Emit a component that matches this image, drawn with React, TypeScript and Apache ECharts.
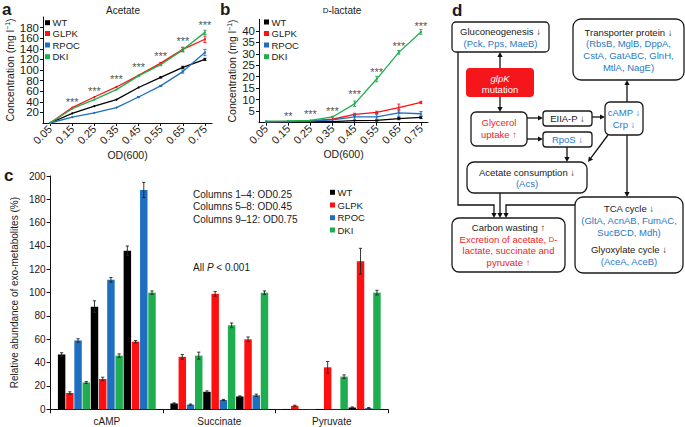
import React, { useEffect, useRef } from 'react';
import * as echarts from 'echarts';

const FONT = '"Liberation Sans", Arial, Helvetica, sans-serif';

// ---------- data ----------
const odValues = [0.05, 0.15, 0.25, 0.35, 0.45, 0.55, 0.65, 0.75];
const strainNames = ['WT', 'GLPK', 'RPOC', 'DKI'];
const strainColors = ['#000000', '#ff1010', '#1f6fc0', '#1fae4f'];

// panel a: acetate (mg/l)
const acetateWT = [0, 18, 32, 44, 67, 86, 105, 120];
const acetateGLPK = [0, 29, 49, 68, 90, 113, 139, 158];
const acetateRPOC = [0, 11, 19, 29, 49, 70, 97, 133];
const acetateDKI = [0, 27, 44, 63, 89, 110, 138, 171];
const acetateErrWT = [0, 0, 0, 0, 0, 1, 2, 2];
const acetateErrGLPK = [0, 0, 0, 0, 0, 1, 4, 6];
const acetateErrRPOC = [0, 0, 0, 0, 1, 1, 3, 6];
const acetateErrDKI = [0, 0, 0, 0, 1, 2, 4, 4];
const acetateStarY = [40, 60, 83, 105, 126, 154, 184];
const acetateStarText = ['***', '***', '***', '***', '***', '***', '***'];

// panel b: D-lactate (mg/l)
const lactateWT = [0.3, 0.4, 0.5, 0.5, 0.9, 1.0, 1.8, 2.3];
const lactateGLPK = [0.4, 0.6, 0.8, 1.5, 3.6, 4.5, 6.6, 8.8];
const lactateRPOC = [0.4, 0.5, 0.7, 1.2, 2.5, 2.5, 4.3, 3.9];
const lactateDKI = [0.7, 0.8, 1.0, 2.5, 8.2, 19, 30.6, 39.5];
const lactateErrWT = [0, 0, 0, 0, 0, 0.3, 0.5, 0.5];
const lactateErrGLPK = [0, 0, 0, 0, 0.5, 0.5, 1.5, 0.5];
const lactateErrRPOC = [0, 0, 0, 0, 1, 1, 1.5, 1];
const lactateErrDKI = [0, 0, 0, 0.3, 1.2, 1.2, 0.8, 1];
const lactateStarY = [2.8, 3.7, 5.0, 12.5, 22.2, 33.2, 41.9];
const lactateStarText = ['**', '***', '***', '***', '***', '***', '***'];

// panel c: relative abundance (%), columns 1-12 = (WT, GLPK, RPOC, DKI) x (OD0.25, OD0.45, OD0.75)
const metabolites = ['cAMP', 'Succinate', 'Pyruvate'];
const campValues = [47, 14, 59, 23, 88, 26, 111, 46, 136, 58, 188, 100];
const succinateValues = [5, 45, 4, 46, 15, 99, 8, 72, 11, 60, 12, 100];
const pyruvateValues = [0.3, 3, 0.2, 0.3, 0.3, 36, 0.3, 28, 1.5, 127, 1, 100];
const campErr = [1.5, 1, 1.5, 0.8, 5, 1.5, 2, 1.5, 4, 1, 6.5, 1.5];
const succinateErr = [0.5, 2, 0.5, 3, 0.8, 2, 0.5, 2, 0.5, 2, 1, 1.5];
const pyruvateErr = [0, 0.5, 0, 0, 0, 5, 0, 1.5, 0.5, 11, 0.5, 2];
const columnNotes = ['Columns 1–4: OD0.25', 'Columns 5–8: OD0.45', 'Columns 9–12: OD0.75'];

const BLUE_TXT = '#1f78c8';
const RED_TXT = '#ee1c25';
const DARK = '#1a1a1a';

// ---------- helpers ----------
function txt(x: number, y: number, text: string, o: any = {}) {
  const align = o.align || 'center';
  return {
    type: 'text',
    x,
    y,
    z: 10,
    style: {
      text,
      fill: o.color || DARK,
      fontSize: o.size || 9.5,
      fontFamily: FONT,
      fontWeight: o.weight || 'normal',
      fontStyle: o.style || 'normal',
      textAlign: align,
      align,
      textVerticalAlign: 'middle',
      verticalAlign: 'middle',
      rich: o.rich,
    },
  };
}

function box(x: number, y: number, w: number, h: number, r: number, fill = '#fff', stroke: any = DARK) {
  return {
    type: 'rect',
    z: 5,
    shape: { x, y, width: w, height: h, r },
    style: { fill, stroke, lineWidth: stroke ? 1.3 : 0 },
  };
}

function arrow(points: number[][], color = '#111') {
  const n = points.length;
  const [x1, y1] = points[n - 2];
  const [x2, y2] = points[n - 1];
  const ang = Math.atan2(y2 - y1, x2 - x1);
  const L = 5;
  const W = 2.6;
  const bx = x2 - L * Math.cos(ang);
  const by = y2 - L * Math.sin(ang);
  const px = -Math.sin(ang) * W;
  const py = Math.cos(ang) * W;
  const linePts = points.slice(0, n - 1).concat([[bx, by]]);
  return [
    { type: 'polyline', z: 4, shape: { points: linePts }, style: { stroke: color, lineWidth: 1.3, fill: 'none' } },
    { type: 'polygon', z: 6, shape: { points: [[x2, y2], [bx + px, by + py], [bx - px, by - py]] }, style: { fill: color } },
  ];
}

function legendItems(x: number, ys: number[]) {
  const out: any[] = [];
  strainNames.forEach((n, i) => {
    out.push({ type: 'rect', shape: { x, y: ys[i] - 2.5, width: 5, height: 5 }, style: { fill: strainColors[i] } });
    out.push(txt(x + 7.5, ys[i], n, { align: 'left', size: 9.5 }));
  });
  return out;
}

function errRenderer(color: string) {
  return (params: any, api: any) => {
    const x = api.value(0);
    const y = api.value(1);
    const e = api.value(2);
    if (!e) return null;
    const t = api.coord([x, y + e]);
    const b = api.coord([x, y - e]);
    const cap = 1.6;
    const st = { stroke: color, lineWidth: 0.9 };
    return {
      type: 'group',
      children: [
        { type: 'line', shape: { x1: t[0], y1: t[1], x2: b[0], y2: b[1] }, style: st },
        { type: 'line', shape: { x1: t[0] - cap, y1: t[1], x2: t[0] + cap, y2: t[1] }, style: st },
        { type: 'line', shape: { x1: b[0] - cap, y1: b[1], x2: b[0] + cap, y2: b[1] }, style: st },
      ],
    };
  };
}

const BAR_CAT_GAP = 0.13;
const BAR_GAP = 0.1;
const N_BARS = 12;

function barErrRender(params: any, api: any) {
  const cat = api.value(0);
  const v = api.value(1);
  const e = api.value(2);
  const bi = api.value(3);
  if (!e) return null;
  const band = api.size([1, 0])[0];
  const total = band * (1 - BAR_CAT_GAP);
  const w = total / (N_BARS + (N_BARS - 1) * BAR_GAP);
  const c = api.coord([cat, v]);
  const cx = c[0] - total / 2 + bi * w * (1 + BAR_GAP) + w / 2;
  const yt = api.coord([cat, v + e])[1];
  const yb = api.coord([cat, v - e])[1];
  const cap = 1.6;
  const st = { stroke: '#222', lineWidth: 0.9 };
  return {
    type: 'group',
    children: [
      { type: 'line', shape: { x1: cx, y1: yt, x2: cx, y2: yb }, style: st },
      { type: 'line', shape: { x1: cx - cap, y1: yt, x2: cx + cap, y2: yt }, style: st },
      { type: 'line', shape: { x1: cx - cap, y1: yb, x2: cx + cap, y2: yb }, style: st },
    ],
  };
}

function buildOption() {
  const axisLineStyle = { color: '#111', width: 1 };
  const concName = 'Concentration (mg l{sup|−1})';
  const concNameStyle = {
    fontSize: 10.5,
    fontFamily: FONT,
    color: DARK,
    rich: { sup: { fontSize: 7, fontFamily: FONT, color: DARK, verticalAlign: 'top', padding: [0, 0, 5, 0] } },
  };

  const odAxis = (gridIndex: number) => ({
    type: 'value',
    gridIndex,
    min: 0.018,
    max: 0.782,
    splitLine: { show: false },
    axisLine: { show: true, onZero: false, lineStyle: axisLineStyle },
    axisTick: { show: true, customValues: odValues, length: 3, lineStyle: axisLineStyle },
    axisLabel: {
      customValues: odValues,
      formatter: (v: number) => v.toFixed(2),
      rotate: 45,
      fontSize: 11,
      fontFamily: FONT,
      color: DARK,
      margin: 4,
    },
    name: 'OD(600)',
    nameLocation: 'middle',
    nameGap: 24,
    nameTextStyle: { fontSize: 10.5, fontFamily: FONT, color: DARK },
  });

  const xAxis: any[] = [
    odAxis(0),
    odAxis(1),
    {
      type: 'category',
      gridIndex: 2,
      data: metabolites,
      axisLine: { show: true, lineStyle: axisLineStyle },
      axisTick: { show: true, length: 4, lineStyle: axisLineStyle },
      axisLabel: { fontSize: 10, fontFamily: FONT, color: DARK, margin: 7 },
    },
  ];

  const yAxis: any[] = [
    {
      type: 'value',
      gridIndex: 0,
      min: 0,
      max: 200,
      interval: 20,
      splitLine: { show: false },
      axisLine: { show: true, lineStyle: axisLineStyle },
      axisTick: { show: true, length: 3, lineStyle: axisLineStyle },
      axisLabel: { fontSize: 11.5, fontFamily: FONT, color: DARK, margin: 4 },
      name: concName,
      nameLocation: 'middle',
      nameGap: 26,
      nameTextStyle: concNameStyle,
    },
    {
      type: 'value',
      gridIndex: 1,
      min: 0,
      max: 45,
      interval: 5,
      splitLine: { show: false },
      axisLine: { show: true, lineStyle: axisLineStyle },
      axisTick: { show: true, length: 3, lineStyle: axisLineStyle },
      axisLabel: { fontSize: 11.5, fontFamily: FONT, color: DARK, margin: 4 },
      name: concName,
      nameLocation: 'middle',
      nameGap: 21,
      nameTextStyle: concNameStyle,
    },
    {
      type: 'value',
      gridIndex: 2,
      min: 0,
      max: 200,
      interval: 20,
      splitLine: { show: false },
      axisLine: { show: true, lineStyle: axisLineStyle },
      axisTick: { show: true, length: 4, lineStyle: axisLineStyle },
      axisLabel: { fontSize: 10, fontFamily: FONT, color: DARK, margin: 5 },
      name: 'Relative abundance of exo-metabolites (%)',
      nameLocation: 'middle',
      nameGap: 31,
      nameTextStyle: { fontSize: 10, fontFamily: FONT, color: DARK },
    },
  ];

  const series: any[] = [];
  const acetate = [acetateWT, acetateGLPK, acetateRPOC, acetateDKI];
  const acetateErr = [acetateErrWT, acetateErrGLPK, acetateErrRPOC, acetateErrDKI];
  const lactate = [lactateWT, lactateGLPK, lactateRPOC, lactateDKI];
  const lactateErr = [lactateErrWT, lactateErrGLPK, lactateErrRPOC, lactateErrDKI];

  [
    { idx: 0, vals: acetate, errs: acetateErr, starY: acetateStarY, starT: acetateStarText },
    { idx: 1, vals: lactate, errs: lactateErr, starY: lactateStarY, starT: lactateStarText },
  ].forEach((p) => {
    p.vals.forEach((vals, si) => {
      series.push({
        type: 'line',
        name: strainNames[si],
        xAxisIndex: p.idx,
        yAxisIndex: p.idx,
        data: vals.map((v, i) => [odValues[i], v]),
        symbol: 'circle',
        symbolSize: 2,
        color: strainColors[si],
        lineStyle: { width: 1.3, color: strainColors[si] },
        z: si === 3 ? 4 : 3,
      });
      series.push({
        type: 'custom',
        xAxisIndex: p.idx,
        yAxisIndex: p.idx,
        renderItem: errRenderer(strainColors[si]),
        data: vals.map((v, i) => [odValues[i], v, p.errs[si][i]]),
        z: 5,
      });
    });
    series.push({
      type: 'scatter',
      xAxisIndex: p.idx,
      yAxisIndex: p.idx,
      symbolSize: 1,
      itemStyle: { color: 'rgba(0,0,0,0)' },
      data: p.starY.map((y, i) => ({ value: [odValues[i + 1], y], name: p.starT[i] })),
      label: {
        show: true,
        position: 'inside',
        formatter: '{b}',
        fontSize: 11,
        fontFamily: FONT,
        color: DARK,
      },
      z: 6,
    });
  });

  const barData = campValues.map((_, bi) => [campValues[bi], succinateValues[bi], pyruvateValues[bi]]);
  const barErr = campValues.map((_, bi) => [campErr[bi], succinateErr[bi], pyruvateErr[bi]]);
  barData.forEach((d, bi) => {
    const si = bi % 4;
    series.push({
      type: 'bar',
      name: strainNames[si],
      xAxisIndex: 2,
      yAxisIndex: 2,
      data: d,
      itemStyle: { color: strainColors[si] },
      barGap: BAR_GAP * 100 + '%',
      barCategoryGap: BAR_CAT_GAP * 100 + '%',
    });
  });
  const errData: any[] = [];
  barData.forEach((d, bi) => d.forEach((v, ci) => errData.push([ci, v, barErr[bi][ci], bi])));
  series.push({
    type: 'custom',
    xAxisIndex: 2,
    yAxisIndex: 2,
    renderItem: barErrRender,
    data: errData,
    z: 5,
  });

  // ---------- graphic: labels, legends, panel d ----------
  const g: any[] = [];
  g.push(txt(2, 9, 'a', { align: 'left', size: 17, weight: 'bold' }));
  g.push(txt(220, 9, 'b', { align: 'left', size: 17, weight: 'bold' }));
  g.push(txt(4, 175, 'c', { align: 'left', size: 17, weight: 'bold' }));
  g.push(txt(452, 10, 'd', { align: 'left', size: 17, weight: 'bold' }));
  g.push(txt(123, 10, 'Acetate', { size: 10 }));
  g.push(
    txt(342, 10, '{sc|D}-lactate', {
      size: 10,
      rich: { sc: { fontSize: 8, fontFamily: FONT, fill: DARK } },
    })
  );
  g.push(...legendItems(45, [22.7, 33.5, 45, 56.7]));
  g.push(...legendItems(264, [22, 33.5, 45, 56.7]));
  g.push(...legendItems(330, [192.3, 205, 217.7, 230]));
  columnNotes.forEach((t, i) => g.push(txt(193, 194.3 + i * 12.5, t, { align: 'left', size: 10 })));
  g.push(
    txt(193, 267, 'All {i|P} < 0.001', {
      align: 'left',
      size: 10,
      rich: { i: { fontStyle: 'italic', fontSize: 10, fontFamily: FONT, fill: DARK } },
    })
  );

  // panel d boxes
  g.push(box(452, 22, 97, 30, 4));
  g.push(txt(500.5, 31, 'Gluconeogenesis ↓'));
  g.push(txt(500.5, 43, '(Pck, Pps, MaeB)', { color: BLUE_TXT }));

  g.push(box(466, 68, 68, 29, 4, '#f5161c', null));
  g.push(txt(500, 78, 'glpK', { color: '#fff', style: 'italic' }));
  g.push(txt(500, 89.5, 'mutation', { color: '#fff' }));

  g.push(box(471, 112, 56, 34, 5));
  g.push(txt(499, 122, 'Glycerol', { color: RED_TXT }));
  g.push(txt(499, 134, 'uptake ↑', { color: RED_TXT }));

  g.push(box(543, 111, 49, 15, 3));
  g.push(txt(567.5, 118.5, 'EIIA-P ↓'));
  g.push(box(543, 132, 49, 15, 3));
  g.push(txt(567.5, 139.5, 'RpoS ↓', { color: BLUE_TXT }));

  g.push(box(605, 102, 38, 33, 5));
  g.push(txt(624, 112.5, 'cAMP ↓', { color: BLUE_TXT }));
  g.push(txt(624, 124.5, 'Crp ↓', { color: BLUE_TXT }));

  g.push(box(573, 19, 111, 61, 8));
  g.push(txt(628.5, 32, 'Transporter protein ↓'));
  g.push(txt(628.5, 43.5, '(RbsB, MglB, DppA,', { color: BLUE_TXT }));
  g.push(txt(628.5, 55, 'CstA, GatABC, GlnH,', { color: BLUE_TXT }));
  g.push(txt(628.5, 67, 'MtlA, NagE)', { color: BLUE_TXT }));

  g.push(box(467, 162, 120, 31, 7));
  g.push(txt(527, 172, 'Acetate consumption ↓'));
  g.push(txt(527, 183.5, '(Acs)', { color: BLUE_TXT }));

  g.push(box(452, 218, 113, 54, 7));
  g.push(txt(508.5, 227, 'Carbon wasting ↑'));
  g.push(
    txt(508.5, 239, 'Excretion of acetate, {sc|D}-', {
      color: RED_TXT,
      rich: { sc: { fontSize: 7.5, fontFamily: FONT, fill: RED_TXT } },
    })
  );
  g.push(txt(508.5, 250.5, 'lactate, succinate and', { color: RED_TXT }));
  g.push(txt(508.5, 262, 'pyruvate ↑', { color: RED_TXT }));

  g.push(box(575, 197, 108, 76, 8));
  g.push(txt(629, 208, 'TCA cycle ↓'));
  g.push(txt(629, 220, '(GltA, AcnAB, FumAC,', { color: BLUE_TXT }));
  g.push(txt(629, 232, 'SucBCD, Mdh)', { color: BLUE_TXT }));
  g.push(txt(629, 249, 'Glyoxylate cycle ↓'));
  g.push(txt(629, 261, '(AceA, AceB)', { color: BLUE_TXT }));

  // arrows
  g.push(...arrow([[500, 68], [500, 52]]));
  g.push(...arrow([[500, 97], [500, 112]]));
  g.push(...arrow([[527, 118], [543, 118]]));
  g.push(...arrow([[527, 139], [543, 139]]));
  g.push(...arrow([[592, 117], [605, 117]]));
  g.push(...arrow([[627, 102], [627, 80]]));
  g.push(...arrow([[627, 135], [627, 197]]));
  g.push(...arrow([[567, 147], [567, 162]]));
  g.push(...arrow([[608, 135], [588, 162]]));
  g.push(...arrow([[458, 52], [458, 205], [494, 205], [494, 218]]));
  g.push(...arrow([[500, 193], [500, 218]]));
  g.push(...arrow([[575, 205], [506, 205], [506, 218]]));

  return {
    animation: false,
    backgroundColor: '#ffffff',
    textStyle: { fontFamily: FONT },
    grid: [
      { left: 43, top: 17, width: 169, height: 106 },
      { left: 259, top: 19.3, width: 169, height: 103.4 },
      { left: 43, top: 176, width: 345, height: 233.3 },
    ],
    xAxis,
    yAxis,
    series,
    graphic: g,
  };
}

export default function App() {
  const ref = useRef<HTMLDivElement>(null);
  useEffect(() => {
    if (!ref.current) return;
    const chart = echarts.init(ref.current, undefined, { renderer: 'svg' });
    chart.setOption(buildOption() as any);
    return () => chart.dispose();
  }, []);
  return (
    <div
      ref={ref}
      style={{ position: 'fixed', left: 0, top: 0, width: 685, height: 427, background: '#fff' }}
    />
  );
}
